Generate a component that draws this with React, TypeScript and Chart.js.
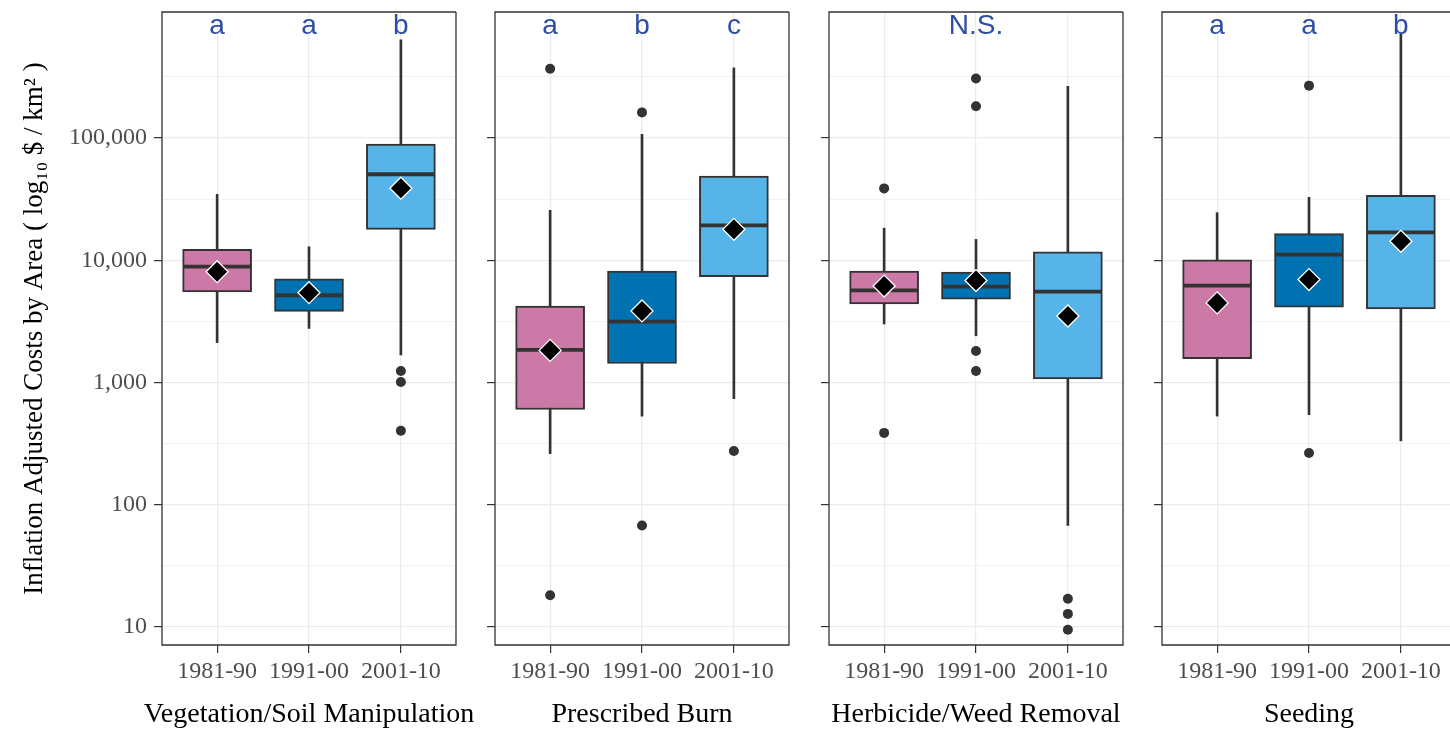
import React, { useEffect, useRef } from 'react';
import { Chart, registerables } from 'chart.js';

Chart.register(...registerables);

// ---------- data ----------
const categories = ['1981-90', '1991-00', '2001-10'];
const treatments = ['Vegetation/Soil Manipulation', 'Prescribed Burn', 'Herbicide/Weed Removal', 'Seeding'];
const yTitle = 'Inflation Adjusted Costs by Area ( log\u2081\u2080 $ / km\u00B2 )';

const yMajorTicks = [10, 100, 1000, 10000, 100000];
const yMinorTicks = [31.6228, 316.228, 3162.28, 31622.8, 316228];
const yMin = 7.125;
const yMax = 1073000;

// one row per treatment, one value per decade
const whiskerLow = [
  [2120, 2770, 1680],
  [262, 531, 736],
  [3010, 2410, 67.6],
  [531, 545, 333],
];
const q1 = [
  [5500, 3820, 17900],
  [601, 1430, 7330],
  [4400, 4800, 1070],
  [1570, 4130, 3990],
];
const median = [
  [8860, 5170, 50500],
  [1850, 3150, 19300],
  [5680, 6090, 5530],
  [6210, 11100, 16900],
];
const q3 = [
  [12300, 7060, 89300],
  [4210, 8140, 48700],
  [8140, 8000, 11700],
  [10100, 16500, 33900],
];
const whiskerHigh = [
  [34600, 12900, 634000],
  [25600, 107000, 375000],
  [18300, 14800, 264000],
  [24500, 32700, 710000],
];
const mean = [
  [8060, 5430, 38800],
  [1830, 3850, 17900],
  [6150, 6820, 3500],
  [4480, 6950, 14300],
];
const outliers = [
  [[], [], [1240, 1010, 403]],
  [[369000, 18.2], [162000, 67.6], [275]],
  [[38700, 387], [307000, 182000, 1810, 1240], [17.0, 12.8, 9.5]],
  [[], [268000, 265], []],
];
const letters = [
  ['a', 'a', 'b'],
  ['a', 'b', 'c'],
  ['', 'N.S.', ''],
  ['a', 'a', 'b'],
];
const letterY = 710000;

// ---------- style / layout ----------
const boxColors = ['#CC79A7', '#0072B2', '#56B4E9'];
const SERIF = "'Liberation Serif', 'Times New Roman', serif";
const SANS = "'Liberation Sans', Arial, sans-serif";
const panelLefts = [162, 495, 829, 1162];
const panelTop = 12;
const panelWidth = 294;
const canvasH = 733;
const xAxisH = 88;
const dark = '#333333';
const pageW = 1450;

function Panel({ index }: { index: number }) {
  const ref = useRef<HTMLCanvasElement>(null);
  const first = index === 0;
  const axisW = first ? 162 : 24;
  const rightPad = 24;
  const width = axisW + panelWidth + rightPad;
  const left = panelLefts[index] - axisW;

  useEffect(() => {
    const canvas = ref.current;
    if (!canvas) return;
    const xs = categories.map((_, i) => i + 1);
    const isMajor = (v: number) => yMajorTicks.includes(v);

    const decor = {
      id: 'panelDecor' + index,
      afterDatasetsDraw(chart: any) {
        const { ctx, chartArea, scales } = chart;
        const { left: l, right: r, top: t, bottom: b } = chartArea;
        ctx.save();
        ctx.strokeStyle = dark;
        ctx.lineWidth = 1.3;
        ctx.beginPath();
        ctx.moveTo(r, t);
        ctx.lineTo(l, t);
        ctx.lineTo(l, b);
        ctx.lineTo(r, b);
        if (left + r <= pageW) ctx.lineTo(r, t);
        ctx.stroke();
        ctx.fillStyle = '#2E4DA7';
        ctx.font = `28px ${SANS}`;
        ctx.textAlign = 'center';
        ctx.textBaseline = 'alphabetic';
        letters[index].forEach((txt, i) => {
          if (!txt) return;
          ctx.fillText(txt, scales.x.getPixelForValue(i + 1), scales.y.getPixelForValue(letterY));
        });
        // facet (x-axis) title
        ctx.fillStyle = '#000000';
        ctx.font = `28px ${SERIF}`;
        ctx.textBaseline = 'middle';
        ctx.fillText(treatments[index], (l + r) / 2, chart.height - 18);
        ctx.restore();
      },
    };

    const chart = new Chart(canvas, {
      type: 'bar',
      data: {
        datasets: [
          {
            type: 'bar',
            label: 'whisker',
            data: xs.map((x, i) => ({ x, y: [whiskerLow[index][i], whiskerHigh[index][i]] })),
            backgroundColor: dark,
            borderWidth: 0,
            barThickness: 2,
            grouped: false,
            order: 5,
          } as any,
          {
            type: 'bar',
            label: 'box',
            data: xs.map((x, i) => ({ x, y: [q1[index][i], q3[index][i]] })),
            backgroundColor: boxColors,
            borderColor: dark,
            borderWidth: 2,
            borderSkipped: false,
            barThickness: 69,
            grouped: false,
            order: 4,
          } as any,
          {
            type: 'line',
            label: 'median',
            data: xs.map((x, i) => ({ x, y: median[index][i] })),
            showLine: false,
            pointStyle: 'line',
            pointRadius: 34,
            pointBorderWidth: 3.8,
            pointBorderColor: dark,
            order: 3,
          } as any,
          {
            type: 'line',
            label: 'outliers',
            data: outliers[index].flatMap((vals, i) => vals.map((v) => ({ x: i + 1, y: v }))),
            showLine: false,
            pointStyle: 'circle',
            pointRadius: 5,
            pointBackgroundColor: dark,
            pointBorderWidth: 0,
            order: 2,
          } as any,
          {
            type: 'line',
            label: 'mean',
            data: xs.map((x, i) => ({ x, y: mean[index][i] })),
            showLine: false,
            pointStyle: 'rectRot',
            pointRadius: 11,
            pointBackgroundColor: '#000000',
            pointBorderColor: '#FFFFFF',
            pointBorderWidth: 1.3,
            order: 1,
          } as any,
        ],
      },
      options: {
        responsive: false,
        animation: false,
        devicePixelRatio: 1,
        events: [],
        layout: { autoPadding: false, padding: { top: panelTop, right: rightPad, bottom: 0, left: 0 } },
        plugins: { legend: { display: false }, tooltip: { enabled: false } },
        scales: {
          x: {
            type: 'linear',
            min: 0.4,
            max: 3.6,
            offset: false,
            afterBuildTicks: (s: any) => {
              s.ticks = xs.map((v) => ({ value: v }));
            },
            afterFit: (s: any) => {
              s.height = xAxisH;
              s.paddingLeft = 0;
              s.paddingRight = 0;
            },
            ticks: {
              callback: (v: any) => categories[Math.round(Number(v)) - 1] ?? '',
              font: { family: SERIF, size: 24 },
              color: '#4D4D4D',
              padding: 4,
              maxRotation: 0,
              minRotation: 0,
              autoSkip: false,
            },
            grid: { offset: false, color: '#EBEBEB', lineWidth: 1.2, tickColor: dark, tickLength: 8, tickWidth: 1.2 },
            border: { display: false },
            title: { display: false },
          },
          y: {
            type: 'logarithmic',
            min: yMin,
            max: yMax,
            afterBuildTicks: (s: any) => {
              s.ticks = [...yMajorTicks, ...yMinorTicks].sort((a, b) => a - b).map((v) => ({ value: v }));
            },
            afterFit: (s: any) => {
              s.width = axisW;
              s.paddingTop = 0;
              s.paddingBottom = 0;
            },
            ticks: {
              display: first,
              autoSkip: false,
              callback: (v: any) => (isMajor(Number(v)) ? Number(v).toLocaleString('en-US') : ''),
              font: { family: SERIF, size: 24 },
              color: '#4D4D4D',
              padding: 7,
            },
            grid: {
              color: (c: any) => (isMajor(c.tick?.value) ? '#EBEBEB' : '#F1F1F1'),
              lineWidth: (c: any) => (isMajor(c.tick?.value) ? 1.2 : 0.9),
              tickColor: (c: any) => (isMajor(c.tick?.value) ? dark : 'rgba(0,0,0,0)'),
              tickLength: 8,
              tickWidth: 1.2,
            },
            border: { display: false },
            title: {
              display: first,
              text: yTitle,
              font: { family: SERIF, size: 27 },
              color: '#000000',
              padding: { top: 19, bottom: 0 },
            },
          },
        },
      } as any,
      plugins: [decor],
    });
    return () => chart.destroy();
  }, [index]);

  return (
    <canvas
      ref={ref}
      width={width}
      height={canvasH}
      style={{ position: 'absolute', left, top: 0, width, height: canvasH }}
    />
  );
}

export default function App() {
  return (
    <div
      style={{
        position: 'fixed',
        left: 0,
        top: 0,
        width: pageW,
        height: 733,
        background: '#FFFFFF',
        overflow: 'hidden',
      }}
    >
      {treatments.map((_, i) => (
        <Panel key={i} index={i} />
      ))}
    </div>
  );
}
